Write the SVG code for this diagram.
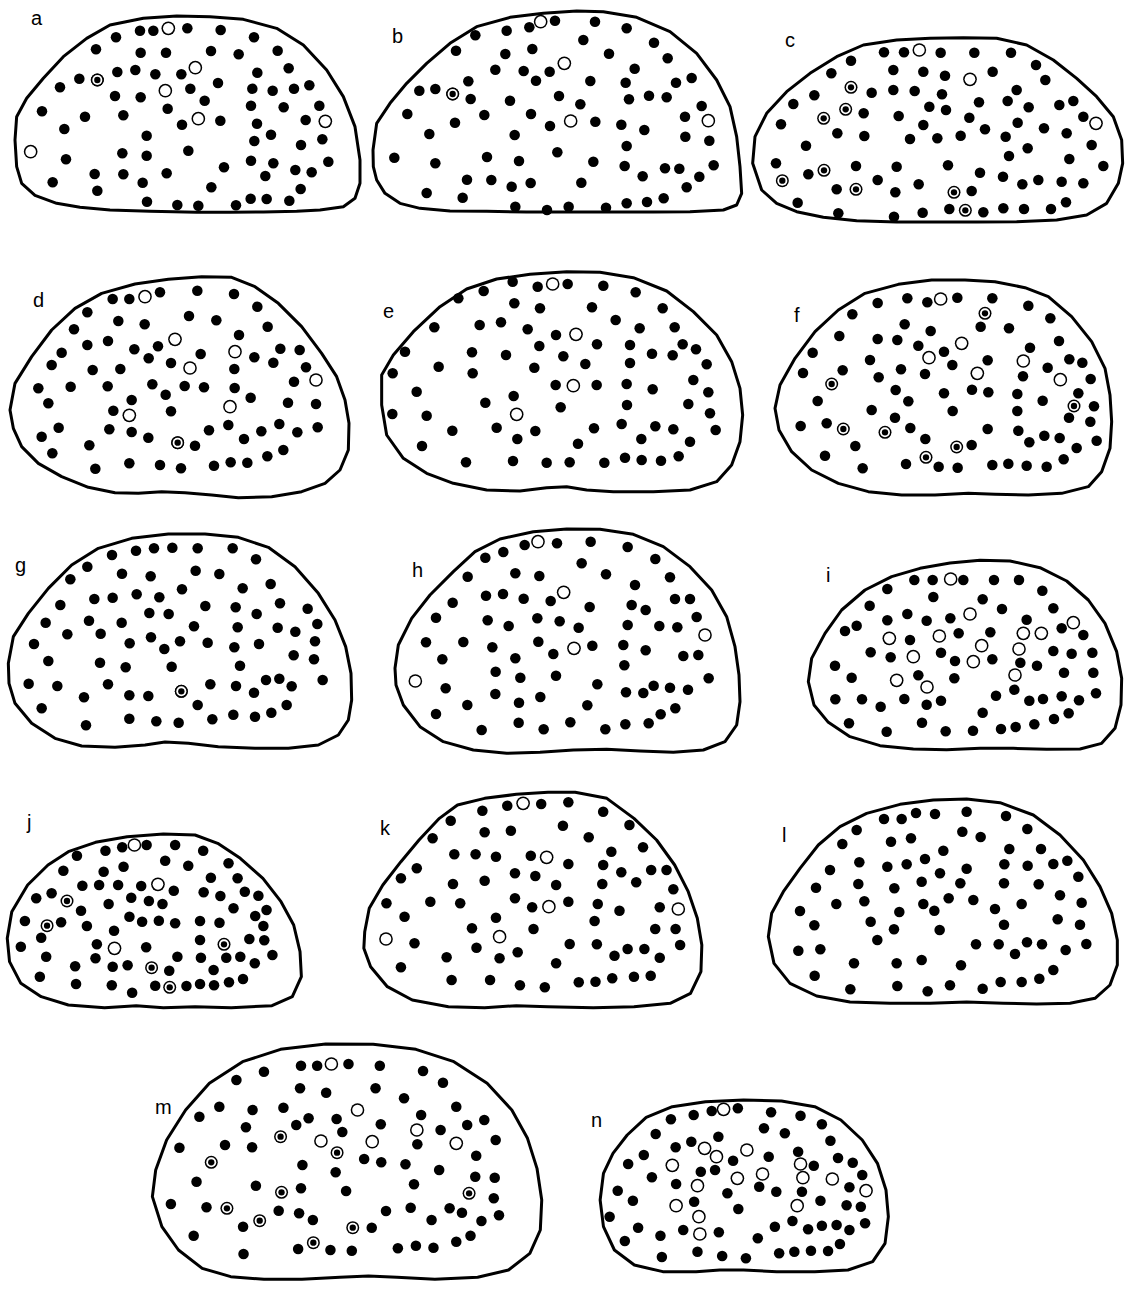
<svg xmlns="http://www.w3.org/2000/svg" width="1145" height="1294" viewBox="0 0 1145 1294">
<style>
.ol{fill:none;stroke:#000;stroke-width:3;stroke-linejoin:round;vector-effect:non-scaling-stroke}
.lb{font-family:"Liberation Sans",Arial,sans-serif;font-size:20px;fill:#000}
.f{fill:none;stroke:none;marker-start:url(#mf);marker-mid:url(#mf);marker-end:url(#mf)}
.o{fill:none;stroke:none;marker-start:url(#mo);marker-mid:url(#mo);marker-end:url(#mo)}
.b{fill:none;stroke:none;marker-start:url(#mb);marker-mid:url(#mb);marker-end:url(#mb)}
.fJ{fill:none;stroke:none;marker-start:url(#mfJ);marker-mid:url(#mfJ);marker-end:url(#mfJ)}
.oJ{fill:none;stroke:none;marker-start:url(#moJ);marker-mid:url(#moJ);marker-end:url(#moJ)}
.bJ{fill:none;stroke:none;marker-start:url(#mbJ);marker-mid:url(#mbJ);marker-end:url(#mbJ)}
.fM{fill:none;stroke:none;marker-start:url(#mfM);marker-mid:url(#mfM);marker-end:url(#mfM)}
.oM{fill:none;stroke:none;marker-start:url(#moM);marker-mid:url(#moM);marker-end:url(#moM)}
.bM{fill:none;stroke:none;marker-start:url(#mbM);marker-mid:url(#mbM);marker-end:url(#mbM)}
</style>
<defs>
<marker id="mf" markerUnits="userSpaceOnUse" markerWidth="60" markerHeight="60" refX="30" refY="30" orient="0"><circle cx="30" cy="30" r="15.8" fill="#000"/></marker>
<marker id="mo" markerUnits="userSpaceOnUse" markerWidth="60" markerHeight="60" refX="30" refY="30" orient="0"><circle cx="30" cy="30" r="20.5" fill="#000"/><circle cx="30" cy="30" r="16" fill="#fff"/></marker>
<marker id="mb" markerUnits="userSpaceOnUse" markerWidth="60" markerHeight="60" refX="30" refY="30" orient="0"><circle cx="30" cy="30" r="19.5" fill="#000"/><circle cx="30" cy="30" r="15" fill="#fff"/><circle cx="30" cy="30" r="9.5" fill="#000"/></marker>
<marker id="mfJ" markerUnits="userSpaceOnUse" markerWidth="60" markerHeight="60" refX="30" refY="30" orient="0"><ellipse cx="30" cy="30" rx="11.64" ry="15.8" fill="#000"/></marker>
<marker id="moJ" markerUnits="userSpaceOnUse" markerWidth="60" markerHeight="60" refX="30" refY="30" orient="0"><ellipse cx="30" cy="30" rx="15.1" ry="20.5" fill="#000"/><ellipse cx="30" cy="30" rx="11.79" ry="16" fill="#fff"/></marker>
<marker id="mbJ" markerUnits="userSpaceOnUse" markerWidth="60" markerHeight="60" refX="30" refY="30" orient="0"><ellipse cx="30" cy="30" rx="14.37" ry="19.5" fill="#000"/><ellipse cx="30" cy="30" rx="11.05" ry="15" fill="#fff"/><ellipse cx="30" cy="30" rx="7" ry="9.5" fill="#000"/></marker>
<marker id="mfM" markerUnits="userSpaceOnUse" markerWidth="60" markerHeight="60" refX="30" refY="30" orient="0"><ellipse cx="30" cy="30" rx="11.09" ry="15.8" fill="#000"/></marker>
<marker id="moM" markerUnits="userSpaceOnUse" markerWidth="60" markerHeight="60" refX="30" refY="30" orient="0"><ellipse cx="30" cy="30" rx="14.39" ry="20.5" fill="#000"/><ellipse cx="30" cy="30" rx="11.23" ry="16" fill="#fff"/></marker>
<marker id="mbM" markerUnits="userSpaceOnUse" markerWidth="60" markerHeight="60" refX="30" refY="30" orient="0"><ellipse cx="30" cy="30" rx="13.69" ry="19.5" fill="#000"/><ellipse cx="30" cy="30" rx="10.53" ry="15" fill="#fff"/><ellipse cx="30" cy="30" rx="6.67" ry="9.5" fill="#000"/></marker>
</defs>
<rect width="1145" height="1294" fill="#fff"/>

<g id="panel-a">
<text class="lb" x="31" y="25">a</text>
<g transform="translate(10,10) scale(.33333)">
<path class="ol" d="M15 390 20 320 50 265 100 205 160 140 230 85 300 45 400 25 500 18 600 20 700 28 800 55 880 105 950 180 1000 260 1035 350 1050 450 1050 520 1035 565 1000 590 930 600 860 604 760 606 660 607 560 607 420 604 300 600 210 592 140 580 75 556 35 520 20 470Z"/>
<path class="f" d="M318 82 390 62 430 62 532 55 632 60 732 82 258 118 392 128 468 128 603 123 686 133 803 122 208 206 322 186 376 180 436 193 514 193 742 188 836 175 150 232 315 258 392 262 541 236 624 219 727 236 788 242 852 236 898 226 96 304 225 320 340 316 473 296 584 272 723 287 821 292 928 287 163 357 516 344 631 332 741 341 887 330 410 377 783 374 733 393 937 388 873 405 168 448 337 430 410 437 535 422 723 452 790 460 955 455 642 472 254 492 340 493 470 490 856 480 905 487 766 498 128 517 262 542 398 518 604 532 872 537 411 575 502 585 565 587 678 586 722 566 770 567 838 572"/>
<path class="o" d="M475 55 556 173 466 242 565 326 946 334 62 425"/>
<path class="b" d="M262 210 262 210"/>
</g>
</g>

<g id="panel-b">
<text class="lb" x="392" y="43">b</text>
<g transform="translate(370,10) scale(.33333)">
<path class="ol" d="M9 420 20 340 60 280 110 220 170 160 240 100 320 50 420 22 520 10 620 3 700 5 800 22 900 65 980 130 1040 210 1080 290 1100 380 1110 470 1115 550 1100 585 1060 600 960 605 850 606 720 606 600 606 470 606 350 604 240 603 150 595 90 580 45 550 20 510 10 470Z"/>
<path class="f" d="M555 32 675 35 770 55 478 52 410 62 316 76 258 122 640 90 852 98 406 132 487 117 717 131 893 145 376 179 461 183 539 185 498 212 661 213 794 176 767 218 918 218 965 204 148 242 196 237 295 214 302 267 420 272 567 258 631 283 777 268 837 257 890 262 995 288 112 312 255 338 343 315 483 312 540 348 676 335 754 344 823 360 945 320 178 372 434 375 946 380 1018 392 770 408 73 443 196 460 351 441 447 453 562 427 670 455 764 468 885 475 928 476 1031 466 291 509 364 510 425 530 482 519 634 518 818 499 950 532 988 500 170 549 278 563 436 590 531 600 596 590 708 593 770 580 831 576 881 565"/>
<path class="o" d="M512 35 583 160 602 333 1015 332"/>
<path class="b" d="M248 252 248 252"/>
</g>
</g>

<g id="panel-c">
<text class="lb" x="785" y="47">c</text>
<g transform="translate(750,30) scale(.33333)">
<path class="ol" d="M8 400 15 320 50 250 110 185 180 130 260 80 340 45 440 30 540 25 640 23 740 25 830 45 910 90 980 145 1040 200 1090 260 1115 330 1118 400 1105 460 1070 520 1010 555 920 570 800 575 680 576 560 576 440 576 320 572 220 562 140 545 80 520 35 480Z"/>
<path class="f" d="M402 67 462 67 572 68 673 68 783 68 303 92 858 105 244 130 430 120 520 125 585 137 728 125 886 150 365 188 430 180 494 183 576 193 800 180 193 196 130 222 341 250 538 230 588 240 687 217 773 213 836 232 928 225 970 213 1000 260 93 283 262 310 343 318 446 258 520 285 658 263 803 278 882 295 950 310 480 327 562 325 632 317 705 298 767 320 1025 345 168 347 833 355 777 378 958 387 78 400 175 433 318 408 440 410 594 406 690 428 759 440 817 463 865 450 935 455 1000 460 1060 408 260 478 383 450 436 487 506 463 665 483 143 518 265 550 432 560 518 548 598 537 700 547 760 535 822 537 903 537 948 517"/>
<path class="o" d="M508 60 660 148 1038 280"/>
<path class="b" d="M303 172 287 238 221 265 222 421 97 452 318 478 612 487 646 541"/>
</g>
</g>

<g id="panel-d">
<text class="lb" x="33" y="307">d</text>
<g transform="translate(5,270) scale(.33333)">
<path class="ol" d="M15 420 30 340 80 260 140 180 210 115 290 70 390 42 490 28 590 20 680 22 750 50 820 100 890 170 950 250 995 320 1020 390 1032 460 1030 540 1005 600 960 640 890 665 800 680 700 683 620 675 540 668 470 665 400 670 330 668 250 652 170 620 100 580 50 530 25 475Z"/>
<path class="f" d="M323 87 373 87 465 67 577 62 687 72 757 110 247 127 340 153 419 163 552 138 634 151 788 170 207 178 702 195 247 225 309 213 388 238 459 229 587 252 826 236 884 240 170 248 431 265 498 279 748 262 805 278 140 285 263 300 346 297 688 297 903 292 867 335 100 355 197 350 308 349 442 343 539 348 597 352 689 354 482 374 737 383 380 390 130 400 849 398 933 402 325 422 498 424 161 473 313 478 380 486 430 503 612 481 670 465 769 484 823 462 877 487 938 472 110 500 570 527 717 507 253 526 142 550 787 559 835 540 373 580 465 585 528 595 627 587 677 577 727 578 271 596"/>
<path class="o" d="M420 80 510 208 690 245 555 294 933 330 373 436 675 410"/>
<path class="b" d="M518 518 518 518"/>
</g>
</g>

<g id="panel-e">
<text class="lb" x="383" y="318">e</text>
<g transform="translate(380,265) scale(.33333)">
<path class="ol" d="M5 330 40 270 100 200 180 125 260 72 350 42 450 28 560 20 660 22 760 38 860 78 940 140 1010 210 1055 290 1080 370 1088 450 1080 530 1055 600 1010 650 930 675 820 680 700 680 620 675 560 665 500 668 420 678 320 675 220 655 140 625 70 580 20 510 5 420Z"/>
<path class="f" d="M398 50 473 65 563 57 670 62 767 82 311 78 235 100 403 115 480 130 636 127 848 130 163 187 299 180 363 172 443 193 528 210 707 165 779 190 884 187 75 260 276 262 378 270 478 243 550 274 651 238 750 240 816 266 878 271 908 238 948 253 980 298 38 325 176 305 278 325 463 308 616 297 750 294 110 380 527 360 650 360 740 357 818 373 940 345 985 382 316 413 401 393 542 427 741 420 925 417 990 445 37 447 140 452 217 497 350 488 412 522 466 498 642 490 725 477 826 484 880 493 1007 495 126 543 594 536 784 522 930 530 258 592 399 588 500 593 569 592 673 593 735 578 785 585 843 587 896 574"/>
<path class="o" d="M518 57 588 208 580 362 410 448"/>
</g>
</g>

<g id="panel-f">
<text class="lb" x="794" y="322">f</text>
<g transform="translate(775,275) scale(.33333)">
<path class="ol" d="M0 400 15 330 60 250 120 170 190 105 270 55 370 28 470 15 570 15 660 20 750 38 820 65 890 125 950 200 990 280 1005 360 1010 440 1005 520 980 590 940 635 860 655 760 660 660 658 580 655 480 660 380 660 280 650 190 625 110 585 50 530 12 465Z"/>
<path class="f" d="M308 84 397 70 457 82 547 68 652 70 760 92 232 118 389 148 467 168 617 155 702 160 826 130 193 183 308 192 367 195 430 212 507 230 765 218 852 198 113 233 285 255 532 270 638 256 883 253 922 263 818 278 84 294 203 286 378 283 450 297 744 304 947 312 311 307 362 345 507 355 591 344 640 352 727 357 910 355 128 378 400 379 803 377 957 394 290 405 533 408 727 408 882 428 360 428 77 453 155 445 406 459 638 462 730 467 808 482 854 489 946 440 965 497 241 513 451 492 590 510 763 502 905 519 150 542 393 567 491 575 548 578 652 570 700 566 755 572 815 575 866 553 263 580"/>
<path class="o" d="M497 72 560 205 462 248 745 258 607 295 856 314"/>
<path class="b" d="M630 115 170 327 897 393 205 462 330 472 545 516 453 547"/>
</g>
</g>

<g id="panel-g">
<text class="lb" x="15" y="572">g</text>
<g transform="translate(5,530) scale(.33333)">
<path class="ol" d="M10 400 25 320 70 250 130 175 200 105 280 55 380 25 490 12 600 12 700 22 790 52 870 110 940 190 990 270 1022 350 1038 430 1040 510 1030 570 1000 615 940 645 850 655 750 655 640 650 550 640 480 636 420 645 330 652 230 648 150 625 80 580 30 520 12 460Z"/>
<path class="f" d="M321 75 393 62 447 55 502 53 578 55 683 55 753 88 247 110 196 148 351 131 437 139 572 122 643 132 713 175 797 162 531 178 166 225 268 207 323 203 395 193 463 202 601 228 692 232 825 220 908 236 122 278 252 272 350 278 433 249 491 252 755 252 567 289 698 292 818 293 871 305 937 282 87 342 187 313 287 311 374 340 438 322 525 334 608 338 688 352 762 342 930 334 478 357 130 393 285 398 362 412 500 410 705 407 866 376 927 388 71 461 157 468 309 463 616 463 693 468 783 450 823 446 860 469 953 450 237 502 373 496 430 498 747 488 578 525 110 535 845 525 243 586 373 566 454 574 521 578 622 568 685 554 750 560 799 548"/>
<path class="b" d="M529 484 529 484"/>
</g>
</g>

<g id="panel-h">
<text class="lb" x="412" y="577">h</text>
<g transform="translate(380,515) scale(.33333)">
<path class="ol" d="M45 460 55 390 95 310 150 240 220 170 285 110 360 72 460 50 560 42 660 43 760 58 850 95 930 155 995 225 1040 305 1065 395 1077 480 1080 560 1070 630 1035 680 970 705 880 712 780 708 680 703 580 705 480 712 380 715 280 705 190 680 120 635 70 570 48 510Z"/>
<path class="f" d="M434 90 531 85 632 80 743 96 826 132 370 111 316 128 605 145 263 185 406 175 478 183 678 178 870 187 765 210 218 263 318 242 369 237 431 251 512 258 629 276 755 270 797 285 885 252 930 252 950 306 168 308 323 316 386 333 472 310 539 319 596 338 743 330 838 333 892 337 138 382 250 381 337 397 475 380 520 417 637 392 730 390 797 406 910 423 955 420 187 433 406 430 733 451 347 470 421 488 528 482 986 490 197 520 346 537 481 546 652 508 738 532 790 534 821 512 870 518 924 524 262 570 417 563 622 571 886 580 168 597 842 598 305 645 416 623 491 643 571 622 676 643 736 628 806 625"/>
<path class="o" d="M474 80 551 232 975 360 582 400 106 498"/>
</g>
</g>

<g id="panel-i">
<text class="lb" x="826" y="582">i</text>
<g transform="translate(800,555) scale(.33333)">
<path class="ol" d="M25 380 35 310 75 235 125 165 195 105 275 65 360 40 450 24 540 16 630 18 720 38 800 78 865 135 915 205 950 290 965 370 963 450 945 520 905 565 840 582 740 583 640 580 540 580 440 584 340 582 240 572 150 545 85 502 42 450Z"/>
<path class="f" d="M343 75 398 75 490 75 582 75 657 75 727 107 262 102 400 126 548 133 209 152 322 177 262 196 380 197 451 190 606 162 760 160 680 194 170 212 135 228 785 220 850 240 330 255 476 235 571 232 212 292 272 307 423 293 465 318 577 313 661 323 711 332 760 288 815 296 877 293 105 332 155 368 355 361 463 370 792 353 880 353 643 404 588 422 106 433 186 433 242 455 313 432 380 449 423 437 688 437 729 432 785 424 837 436 888 415 548 473 806 475 147 505 366 503 260 530 437 529 519 527 603 522 647 516 703 508 762 492"/>
<path class="o" d="M452 72 510 177 820 203 268 250 418 243 670 235 724 235 545 272 340 305 520 320 657 282 645 360 290 376 381 396"/>
</g>
</g>

<g id="panel-j">
<text class="lb" x="27" y="829">j</text>
<g transform="translate(5,785) scale(.45249,.33333)">
<path class="ol" d="M5 460 15 380 50 300 95 240 140 200 200 172 270 155 350 147 420 150 470 175 520 220 570 280 610 350 638 420 652 500 655 575 635 635 590 662 500 668 420 665 350 668 290 662 220 668 140 660 80 635 35 595 10 530Z"/>
<path class="fJ" d="M159 212 222 197 259 187 313 180 376 180 438 197 129 257 218 260 262 245 354 227 405 242 494 235 171 302 208 300 250 300 301 303 373 317 455 278 514 280 69 340 103 325 229 357 279 338 318 348 348 357 439 322 476 333 530 320 560 332 168 377 505 370 578 375 44 408 124 412 181 423 275 395 303 410 340 407 376 415 431 408 474 413 553 393 571 423 80 458 241 437 431 465 540 462 573 466 35 485 203 478 312 487 91 515 200 520 238 545 271 541 381 515 433 518 489 518 520 515 552 535 591 510 363 557 461 555 155 544 77 575 157 597 236 601 281 623 332 602 401 603 431 597 462 601 495 592 526 582"/>
<path class="oJ" d="M286 180 338 298 242 490"/>
<path class="bJ" d="M137 348 93 422 484 478 324 548 364 607"/>
</g>
</g>

<g id="panel-k">
<text class="lb" x="380" y="835">k</text>
<g transform="translate(5,785) scale(.45249,.33333)">
<path class="ol" d="M795 440 805 370 835 300 875 230 915 165 960 100 1000 60 1060 40 1130 28 1200 22 1260 22 1330 40 1390 100 1440 165 1480 240 1510 320 1530 400 1540 480 1538 560 1515 625 1470 655 1390 665 1300 668 1200 665 1130 662 1060 668 980 665 900 645 845 605 808 545 793 490Z"/>
<path class="fJ" d="M1055 77 1110 62 1185 57 1245 52 1322 80 985 107 1380 120 1060 142 1118 137 1233 122 1290 157 945 160 1410 187 993 208 1040 208 1085 215 1162 212 1245 237 1340 200 910 250 1127 265 1172 273 1322 240 1362 262 1428 255 1462 255 875 280 990 297 1060 287 1218 300 1320 297 1395 292 1477 313 843 355 940 350 1006 355 1127 340 1165 367 1245 350 1310 357 1358 377 1447 367 883 395 1085 398 1303 408 1032 430 1168 432 1437 432 1482 432 905 475 1042 488 1248 477 1308 478 1376 492 1413 492 1492 480 976 517 1093 520 1133 502 1218 535 1347 512 1447 518 875 547 987 585 1072 585 1138 601 1193 607 1268 592 1305 590 1342 580 1390 575 1427 572"/>
<path class="oJ" d="M1145 55 1197 217 1202 365 1488 372 1093 455 842 462"/>
</g>
</g>

<g id="panel-l">
<text class="lb" x="782" y="842">l</text>
<g transform="translate(750,790) scale(.33333)">
<path class="ol" d="M55 440 65 370 100 305 150 235 205 165 270 110 350 70 450 43 550 30 650 27 750 38 850 75 930 135 1000 210 1050 290 1085 370 1102 450 1102 525 1080 585 1035 625 960 640 860 642 760 640 650 636 540 640 420 640 300 636 200 618 120 580 72 520Z"/>
<path class="f" d="M402 87 455 87 498 69 555 72 650 65 768 78 320 120 832 117 277 162 423 155 483 145 637 125 692 141 580 182 778 177 873 177 240 240 328 217 412 230 470 223 525 207 650 236 763 223 833 227 910 222 952 212 198 293 325 282 433 295 515 275 570 250 631 280 762 280 866 283 985 260 150 363 259 342 343 334 448 366 520 342 553 362 596 325 670 330 735 357 815 342 930 316 995 338 193 406 362 395 432 418 569 420 762 404 923 388 990 404 382 450 145 482 211 478 678 463 746 463 795 492 831 457 876 463 947 480 1009 462 312 520 440 520 515 510 633 526 910 540 194 557 301 598 442 588 533 604 600 586 698 596 752 576 815 576 868 566"/>
</g>
</g>

<g id="panel-m">
<text class="lb" x="155" y="1114">m</text>
<g transform="translate(150,1040) scale(.47483,.33333)">
<path class="ol" d="M5 470 12 390 35 300 75 210 125 130 195 65 275 28 370 12 470 13 560 28 640 65 710 130 762 210 795 295 815 385 825 480 822 570 800 640 755 690 690 712 600 718 520 712 460 708 400 712 320 718 240 718 170 710 110 685 60 630 25 560Z"/>
<path class="fM" d="M318 77 352 77 418 72 484 77 575 93 240 95 182 120 617 128 316 145 371 158 475 145 535 175 146 200 104 230 216 210 281 203 645 200 334 235 393 237 486 253 571 225 704 240 202 262 308 255 405 276 612 270 668 255 728 300 62 323 158 315 215 322 563 313 687 347 321 375 451 357 487 367 538 373 391 397 609 390 98 425 223 437 318 445 413 453 556 433 685 410 726 413 44 492 119 502 271 512 314 520 497 513 549 503 631 505 657 518 724 475 735 526 343 540 467 563 593 540 698 543 196 560 92 587 197 642 312 627 380 630 425 632 522 625 560 617 597 623 645 605 675 587"/>
<path class="oM" d="M382 72 437 210 360 303 468 305 562 270 645 310"/>
<path class="bM" d="M275 290 394 338 129 367 277 457 672 460 162 505 231 542 427 563 344 608"/>
</g>
</g>

<g id="panel-n">
<text class="lb" x="591" y="1127">n</text>
<g transform="translate(150,1040) scale(.47483,.33333)">
<path class="ol" d="M948 480 955 400 975 340 1005 285 1045 232 1100 200 1170 185 1250 180 1330 183 1400 200 1455 240 1500 300 1532 370 1550 450 1555 530 1548 610 1522 665 1470 690 1400 695 1320 695 1250 690 1200 690 1150 695 1080 695 1020 675 978 630 955 560Z"/>
<path class="fM" d="M1097 238 1145 225 1183 213 1238 205 1308 217 1370 227 1415 253 1065 282 1293 265 1337 280 1197 290 1433 302 1140 305 1107 322 1040 345 1228 362 1303 350 1365 335 1398 377 1449 354 1480 368 1007 372 1190 390 1160 395 1500 405 1057 412 1108 432 1283 440 1319 455 1373 455 1473 442 985 452 1216 460 1017 482 1146 485 1412 482 1467 496 1497 500 1239 507 968 530 1353 543 1028 563 1123 570 1198 577 1316 560 1386 568 1415 557 1446 555 1473 570 1506 550 1000 603 1075 587 1280 595 1078 651 1153 635 1205 648 1255 655 1325 640 1357 635 1392 632 1428 633 1453 612"/>
<path class="oM" d="M1208 208 1168 325 1193 350 1257 330 1370 372 1100 376 1237 415 1290 402 1375 413 1437 417 1153 437 1508 452 1108 497 1363 497 1156 530 1158 582"/>
</g>
</g>
</svg>
